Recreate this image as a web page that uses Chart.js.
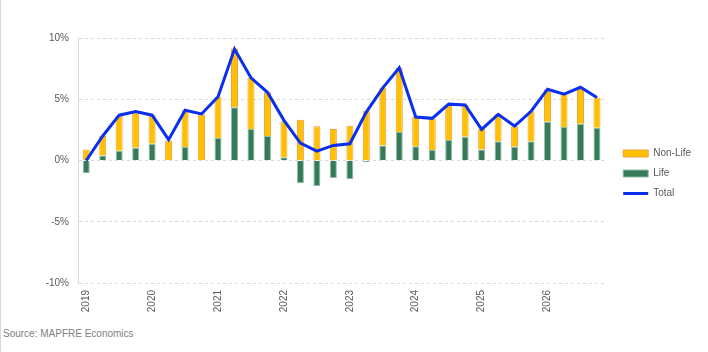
<!DOCTYPE html>
<html>
<head>
<meta charset="utf-8">
<script src="https://cdn.jsdelivr.net/npm/chart.js@4.4.0/dist/chart.umd.min.js"></script>
<style>
  html, body { margin: 0; padding: 0; background: #ffffff; }
  #wrap { position: absolute; left: 0; top: 0; width: 708px; height: 352px; border-left: 1px solid #d9d9d9; box-sizing: border-box; }
  #c { position: absolute; left: 0; top: 0; }
  #src { position: absolute; left: 2px; top: 328px; font-family: "Liberation Sans", Arial, sans-serif; font-size: 10px; color: #7f7f7f; }
</style>
</head>
<body>
<div id="wrap">
  <canvas id="c" width="707" height="327"></canvas>
  <div id="src">Source: MAPFRE Economics</div>
</div>
<script>
const categories = [
  "2019Q1","2019Q2","2019Q3","2019Q4",
  "2020Q1","2020Q2","2020Q3","2020Q4",
  "2021Q1","2021Q2","2021Q3","2021Q4",
  "2022Q1","2022Q2","2022Q3","2022Q4",
  "2023Q1","2023Q2","2023Q3","2023Q4",
  "2024Q1","2024Q2","2024Q3","2024Q4",
  "2025Q1","2025Q2","2025Q3","2025Q4",
  "2026Q1","2026Q2","2026Q3","2026Q4"
];
const nonLife = [0.90, 1.59, 2.86, 2.86, 2.33, 1.59, 3.00, 3.72, 3.37, 4.81, 4.18, 3.57, 2.93, 3.33, 2.79, 2.57, 2.84, 4.07, 4.70, 5.25, 2.43, 2.59, 2.87, 2.60, 1.67, 2.19, 1.67, 2.44, 2.65, 2.68, 2.98, 2.46];
const life = [-1.04, 0.41, 0.80, 1.04, 1.37, 0.05, 1.10, 0.05, 1.83, 4.34, 2.57, 2.00, 0.27, -1.86, -2.08, -1.42, -1.53, -0.14, 1.23, 2.32, 1.17, 0.85, 1.67, 1.94, 0.90, 1.58, 1.12, 1.58, 3.17, 2.73, 3.00, 2.68];
const total = [0.00, 2.00, 3.70, 4.00, 3.70, 1.70, 4.10, 3.80, 5.20, 9.10, 6.75, 5.57, 3.28, 1.42, 0.77, 1.23, 1.37, 3.95, 5.93, 7.57, 3.55, 3.44, 4.60, 4.54, 2.54, 3.77, 2.81, 4.02, 5.82, 5.41, 5.98, 5.14];
const yTicks = [-10, -5, 0, 5, 10];
const legendOrder = ["Non-Life", "Life", "Total"];

const FONT = "'Liberation Sans', Arial, sans-serif";
const GRAY = "#595959";
const LEGEND_DX = 8;
const LEGEND_DY = -7;

new Chart(document.getElementById("c"), {
  data: {
    labels: categories,
    datasets: [
      {
        type: "line", label: "Total", data: total, order: 0,
        borderColor: "#0a2ff0", backgroundColor: "#0a2ff0", borderWidth: 3,
        pointRadius: 0, tension: 0, pointStyle: "line"
      },
      {
        type: "bar", label: "Life", data: life, order: 1, stack: "s",
        backgroundColor: "#367a5a", borderColor: "#8cbfa5", borderWidth: 1,
        barPercentage: 0.85, categoryPercentage: 0.5, pointStyle: "rect"
      },
      {
        type: "bar", label: "Non-Life", data: nonLife, order: 2, stack: "s",
        backgroundColor: "#ffc000", borderColor: "#f0a040", borderWidth: 1,
        barPercentage: 0.85, categoryPercentage: 0.5, pointStyle: "rect"
      }
    ]
  },
  options: {
    responsive: false,
    animation: false,
    devicePixelRatio: 1,
    layout: { padding: { top: 38, left: 3, right: 15, bottom: 4 } },
    plugins: {
      tooltip: { enabled: false },
      legend: {
        position: "right",
        align: "center",
        labels: {
          usePointStyle: true,
          pointStyleWidth: 25,
          boxHeight: 7,
          padding: 10,
          color: GRAY,
          font: { family: FONT, size: 10 },
          sort: (a, b) => legendOrder.indexOf(a.text) - legendOrder.indexOf(b.text)
        }
      }
    },
    scales: {
      x: {
        stacked: true,
        grid: { display: false, drawTicks: false },
        border: { display: false },
        afterFit: (s) => { s.height = 40; },
        ticks: {
          autoSkip: false,
          minRotation: 90, maxRotation: 90,
          color: GRAY,
          font: { family: FONT, size: 10 },
          padding: 7,
          callback: function (v, i) { const c = categories[i]; return c.endsWith("Q1") ? c.slice(0, 4) : ""; }
        }
      },
      y: {
        stacked: true,
        min: -10, max: 10,
        afterBuildTicks: (s) => { s.ticks = yTicks.map(v => ({ value: v })); },
        afterFit: (s) => { s.width = 74; },
        grid: { color: "#d9d9d9", drawTicks: false, lineWidth: 1 },
        border: { display: true, color: "#d9d9d9", dash: [3, 3] },
        ticks: {
          color: GRAY,
          padding: 9,
          font: { family: FONT, size: 10 },
          callback: (v) => v + "%"
        }
      }
    }
  },
  plugins: [{
    id: "legendNudge",
    afterLayout(chart) {
      const l = chart.legend;
      if (!l) return;
      l.left += LEGEND_DX; l.right += LEGEND_DX;
      l.top += LEGEND_DY; l.bottom += LEGEND_DY;
    }
  }]
});
</script>
</body>
</html>
